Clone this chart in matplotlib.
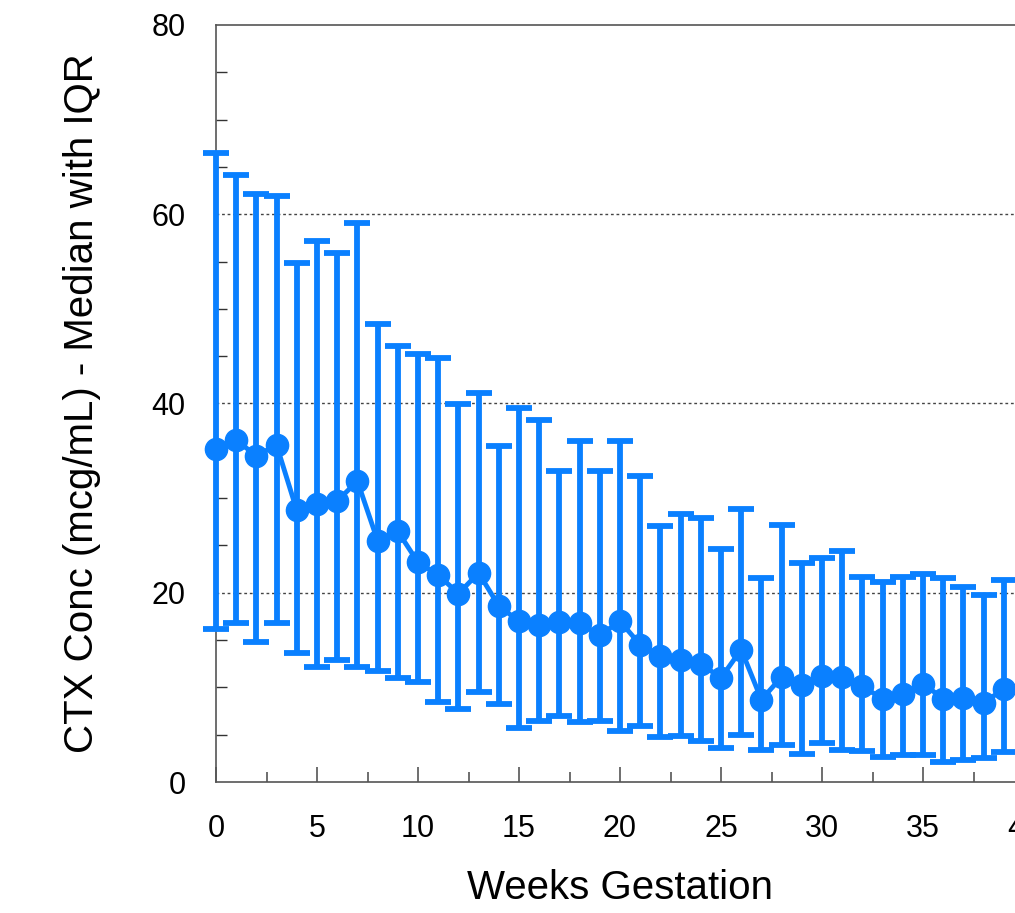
import matplotlib
matplotlib.use("Agg")
import matplotlib.pyplot as plt
from matplotlib.ticker import MultipleLocator
import numpy as np

weeks = list(range(40))
median = [35.2, 36.1, 34.5, 35.6, 28.7, 29.4, 29.7, 31.8, 25.5, 26.5,
          23.2, 21.9, 19.9, 22.1, 18.6, 17.0, 16.6, 16.9, 16.8, 15.5,
          17.0, 14.5, 13.3, 12.9, 12.5, 11.0, 14.0, 8.7, 11.1, 10.3,
          11.2, 11.1, 10.1, 8.8, 9.3, 10.4, 8.8, 8.9, 8.4, 9.8]
q1 = [16.2, 16.8, 14.8, 16.8, 13.6, 12.2, 12.9, 12.2, 11.7, 11.0,
      10.6, 8.5, 7.7, 9.5, 8.2, 5.7, 6.4, 7.0, 6.3, 6.4,
      5.4, 5.9, 4.8, 4.9, 4.3, 3.6, 5.0, 3.4, 3.9, 3.0,
      4.1, 3.4, 3.3, 2.6, 2.9, 2.9, 2.1, 2.3, 2.5, 3.2]
q3 = [66.5, 64.2, 62.1, 61.9, 54.8, 57.2, 55.9, 59.1, 48.4, 46.1,
      45.2, 44.8, 39.9, 41.1, 35.5, 39.5, 38.3, 32.9, 36.0, 32.9,
      36.0, 32.3, 27.1, 28.3, 27.9, 24.6, 28.9, 21.6, 27.2, 23.1,
      23.7, 24.4, 21.7, 21.1, 21.7, 22.0, 21.6, 20.6, 19.8, 21.4]
xticks = [0, 5, 10, 15, 20, 25, 30, 35, 40]
yticks = [0, 20, 40, 60, 80]

blue = '#0A80FF'
plt.rcParams['font.family'] = ['Liberation Sans', 'DejaVu Sans']

fig = plt.figure(figsize=(10.15, 9.13), dpi=100)
W, H = 1015, 913
ax = fig.add_axes([216 / W, (H - 782) / H, 808 / W, 757 / H])

x = np.array(weeks)
m = np.array(median)
yerr = np.vstack([m - np.array(q1), np.array(q3) - m])

for y in [20, 40, 60]:
    ax.axhline(y, color='#444444', linestyle=(0, (2, 2)), linewidth=1.0, zorder=1)

cont = ax.errorbar(x, m, yerr=yerr, color=blue, ecolor=blue, elinewidth=4.2,
                   capsize=9.5, capthick=4.2, linewidth=3.5, marker='o',
                   markersize=16, zorder=3, clip_on=False)
for ch in cont.get_children():
    ch.set_clip_on(False)

ax.set_xlim(0, 40)
ax.set_ylim(0, 80)
ax.set_xticks(xticks)
ax.set_yticks(yticks)
ax.xaxis.set_minor_locator(MultipleLocator(2.5))
ax.yaxis.set_minor_locator(MultipleLocator(5))

for s in ['left', 'bottom', 'top', 'right']:
    ax.spines[s].set_color('#555555')
    ax.spines[s].set_linewidth(1.2)

ax.tick_params(axis='x', which='major', direction='in', length=11, width=1.2,
               color='#555555', labelsize=22, pad=23)
ax.tick_params(axis='x', which='minor', direction='in', length=7.5, width=1.2,
               color='#555555')
ax.tick_params(axis='y', which='major', direction='in', length=0, width=1.2,
               color='#555555', labelsize=22, pad=22)
ax.tick_params(axis='y', which='minor', direction='in', length=8, width=1.0,
               color='#333333')

ax.set_xlabel('Weeks Gestation', fontsize=29, labelpad=18)
ax.set_ylabel('CTX Conc (mcg/mL) - Median with IQR', fontsize=29, labelpad=36)

fig.savefig('out.png', dpi=100)
